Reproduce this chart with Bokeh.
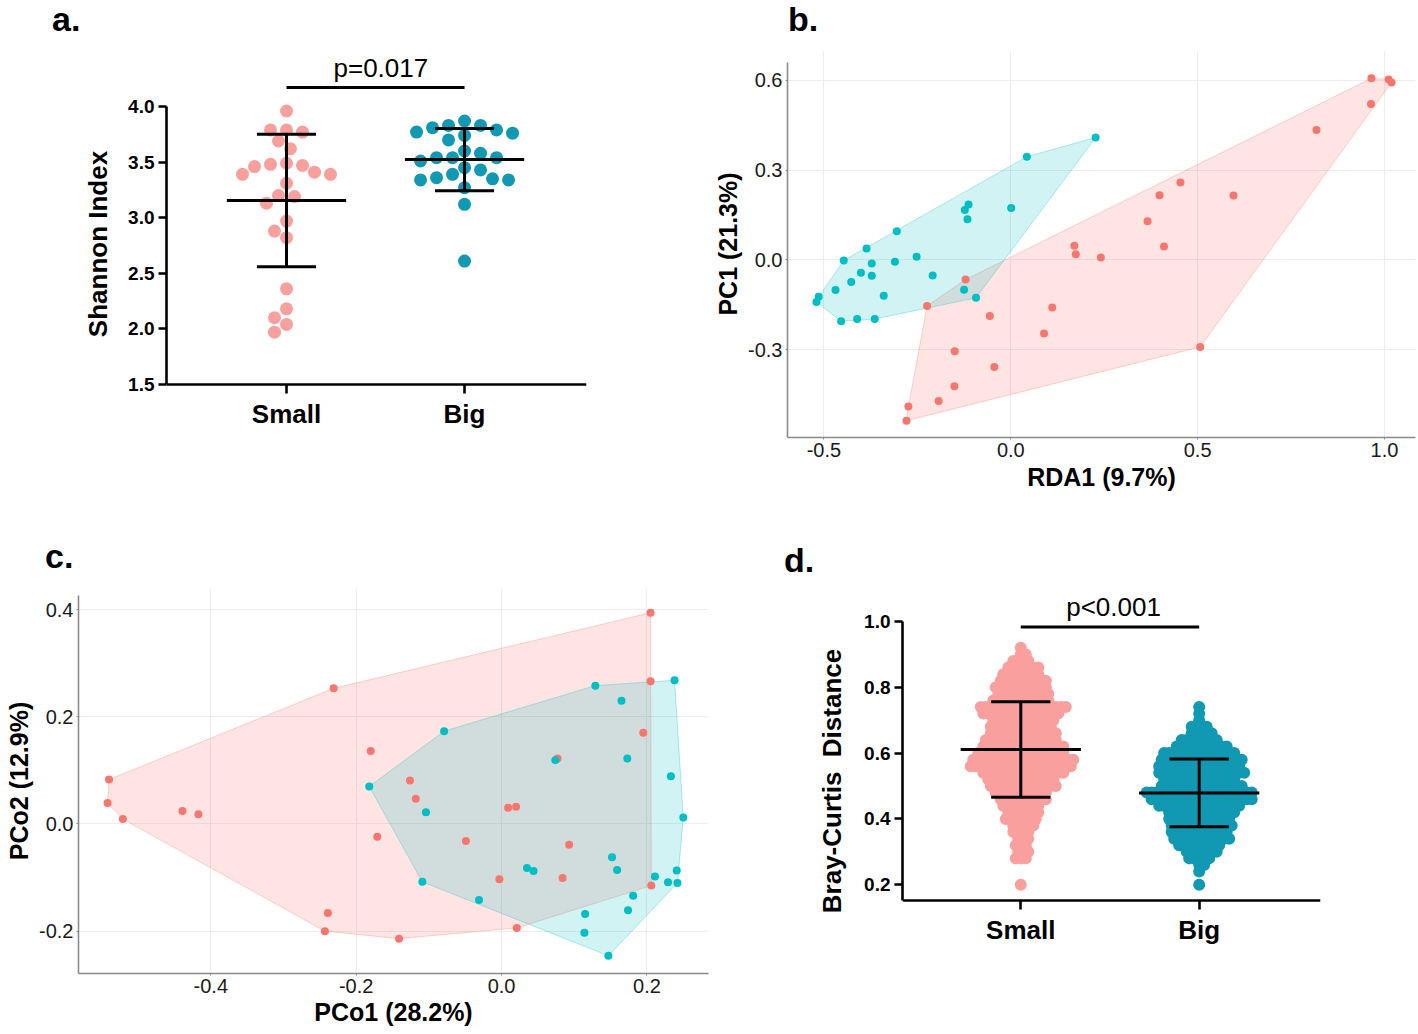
import numpy as np
from bokeh.plotting import figure
from bokeh.layouts import row, column
from bokeh.models import Range1d, FixedTicker, NumeralTickFormatter, Div
from bokeh.core.properties import value
from bokeh.embed import file_html
from bokeh.resources import INLINE

# ------------------------------------------------------------------ data
groups = ["Small", "Big"]
panel_letters = ["a.", "b.", "c.", "d."]

# a. Shannon index per sample
a_small = [3.96, 3.79, 3.77, 3.79, 3.69, 3.62, 3.48, 3.49, 3.46, 3.47, 3.39, 3.39, 3.41,
           3.31, 3.20, 3.19, 3.13, 2.97, 2.88, 2.82, 2.36, 2.18, 2.10, 2.04, 1.97]
a_big = [3.87, 3.81, 3.83, 3.79, 3.77, 3.76, 3.83, 3.70, 3.74, 3.58, 3.60, 3.54, 3.51,
         3.54, 3.54, 3.43, 3.45, 3.39, 3.36, 3.34, 3.34, 3.35, 3.27, 3.12, 2.61]
a_yticks = [1.5, 2.0, 2.5, 3.0, 3.5, 4.0]
a_ptext = "p=0.017"

# b. RDA ordination
b_small_x = [0.965, 1.011, 1.019, 0.964, 0.818, 0.454, 0.398, 0.596, 0.366, 0.170, 0.174, 0.241, 0.410,
             -0.121, -0.224, 0.111, -0.056, 0.089, 0.507, -0.150, -0.044, -0.151, -0.193, -0.274, -0.279]
b_small_y = [0.607, 0.603, 0.593, 0.521, 0.434, 0.259, 0.216, 0.215, 0.129, 0.047, 0.019, 0.008, 0.045,
             -0.066, -0.154, -0.159, -0.188, -0.246, -0.291, -0.306, -0.358, -0.423, -0.472, -0.490, -0.538]
b_big_x = [0.227, 0.043, -0.113, -0.123, -0.116, 0.001, -0.305, -0.386, -0.447, -0.372, -0.310, -0.252, -0.401,
           -0.427, -0.372, -0.469, -0.340, -0.209, -0.125, -0.093, -0.514, -0.520, -0.454, -0.411, -0.364]
b_big_y = [0.409, 0.345, 0.185, 0.167, 0.136, 0.173, 0.096, 0.038, -0.002, -0.012, -0.006, 0.010, -0.043,
           -0.074, -0.053, -0.101, -0.120, -0.052, -0.100, -0.127, -0.123, -0.141, -0.205, -0.198, -0.198]
b_xticks = [-0.5, 0.0, 0.5, 1.0]
b_yticks = [-0.3, 0.0, 0.3, 0.6]

# c. PCoA ordination
c_small_x = [0.205, 0.205, -0.231, 0.195, 0.077, -0.180, -0.540, -0.542, -0.521, -0.439, -0.417, -0.126, -0.118,
             0.009, 0.020, -0.171, -0.049, 0.093, -0.003, 0.084, 0.206, -0.239, -0.243, -0.141, 0.021]
c_small_y = [0.394, 0.266, 0.253, 0.170, 0.122, 0.136, 0.083, 0.039, 0.009, 0.024, 0.018, 0.081, 0.047,
             0.030, 0.032, -0.024, -0.032, -0.039, -0.103, -0.101, -0.115, -0.166, -0.200, -0.214, -0.194]
c_big_x = [0.238, 0.129, 0.165, -0.079, 0.074, 0.173, 0.233, -0.182, -0.104, 0.250, 0.152, 0.159, 0.035,
           0.044, -0.109, 0.211, 0.241, 0.229, 0.242, -0.031, 0.181, 0.115, 0.174, 0.114, 0.147]
c_big_y = [0.268, 0.258, 0.230, 0.173, 0.119, 0.122, 0.089, 0.070, 0.022, 0.012, -0.062, -0.086, -0.082,
           -0.088, -0.108, -0.098, -0.087, -0.109, -0.110, -0.142, -0.134, -0.168, -0.161, -0.203, -0.246]
c_xticks = [-0.4, -0.2, 0.0, 0.2]
c_yticks = [-0.2, 0.0, 0.2, 0.4]

# d. Bray-Curtis distances: distance level and number of pairs at that level
d_levels = [0.20, 0.22, 0.24, 0.26, 0.28, 0.30, 0.32, 0.34, 0.36, 0.38, 0.40, 0.42, 0.44,
            0.46, 0.48, 0.50, 0.52, 0.54, 0.56, 0.58, 0.60, 0.62, 0.64, 0.66, 0.68, 0.70,
            0.72, 0.74, 0.76, 0.78, 0.80, 0.82, 0.84, 0.86, 0.88, 0.90, 0.92]
d_small_counts = [1, 0, 0, 0, 3, 3, 3, 3, 4, 5, 7, 7, 8,
                  10, 11, 14, 14, 17, 21, 21, 18, 17, 15, 14, 13, 13,
                  16, 18, 12, 11, 11, 10, 8, 7, 4, 2, 1]
d_big_counts = [1, 0, 1, 2, 5, 7, 9, 12, 12, 13, 13, 14, 17,
                21, 22, 17, 15, 18, 17, 17, 15, 11, 8, 5, 4, 1,
                1, 1, 0, 0, 0, 0, 0, 0, 0, 0, 0]
d_mean = [0.611, 0.479]
d_sd = [0.145, 0.103]
d_yticks = [0.2, 0.4, 0.6, 0.8, 1.0]
d_ptext = "p<0.001"

# ------------------------------------------------------------------ style
FONT = "Liberation Sans"
PINK = "#F9A09E"
TEAL = "#1198B2"
GG_RED = "#F8766D"
GG_TEAL = "#00BFC4"


def hull(xs, ys):
    pts = sorted(set(zip(xs, ys)))
    def cross(o, a, b):
        return (a[0] - o[0]) * (b[1] - o[1]) - (a[1] - o[1]) * (b[0] - o[0])
    lower, upper = [], []
    for p_ in pts:
        while len(lower) >= 2 and cross(lower[-2], lower[-1], p_) <= 0:
            lower.pop()
        lower.append(p_)
    for p_ in reversed(pts):
        while len(upper) >= 2 and cross(upper[-2], upper[-1], p_) <= 0:
            upper.pop()
        upper.append(p_)
    h = lower[:-1] + upper[:-1]
    return [q[0] for q in h], [q[1] for q in h]


def swarm(vals, px_y, diam, step):
    vals = np.asarray(vals, float)
    order = np.argsort(-vals, kind="stable")
    placed = []
    offs = np.zeros(len(vals))
    cands = [0.0]
    for m in range(1, 80):
        cands += [-m * step, m * step]
    for i in order:
        y = vals[i] * px_y
        for c in cands:
            if all((c - px) ** 2 + (y - py) ** 2 >= diam ** 2 for px, py in placed):
                offs[i] = c
                placed.append((c, y))
                break
    return offs


def level_rows(levels, counts, spacing):
    xs, ys = [], []
    for j, (lv, n) in enumerate(zip(levels, counts)):
        shift = 0.5 * spacing if (j % 2 and n > 1) else 0.0
        for i in range(n):
            xs.append((i - (n - 1) / 2) * spacing + shift)
            ys.append(lv)
    return np.array(xs), np.array(ys)


def prism_style(p, yticks, ybounds, xaxis_at):
    p.outline_line_color = None
    p.grid.visible = False
    p.background_fill_color = "white"
    p.border_fill_color = "white"
    p.xaxis.ticker = FixedTicker(ticks=[0, 1])
    p.xaxis.major_label_overrides = {0: groups[0], 1: groups[1]}
    p.xaxis.fixed_location = xaxis_at
    p.yaxis.ticker = FixedTicker(ticks=yticks)
    p.yaxis.formatter = NumeralTickFormatter(format="0.0")
    p.yaxis.bounds = ybounds
    for ax in (p.xaxis, p.yaxis):
        ax.axis_line_width = 2.6
        ax.axis_line_color = "black"
        ax.major_tick_line_width = 2.6
        ax.major_tick_line_color = "black"
        ax.major_tick_out = 8
        ax.major_tick_in = 0
        ax.minor_tick_line_color = None
        ax.major_label_text_font = FONT
        ax.major_label_text_font_style = "bold"
        ax.major_label_text_color = "black"
        ax.axis_label_text_font = FONT
        ax.axis_label_text_font_style = "bold"
        ax.axis_label_text_font_size = "26px"
        ax.axis_label_text_color = "black"
    p.yaxis.major_label_text_font_size = "19px"
    p.yaxis.major_label_standoff = 4
    p.xaxis.major_label_text_font_size = "26px"
    p.xaxis.major_label_standoff = 6
    p.xaxis.major_tick_out = 9


def gg_style(p, xticks, yticks, ybounds):
    p.outline_line_color = None
    p.background_fill_color = "white"
    p.border_fill_color = "white"
    p.xaxis.ticker = FixedTicker(ticks=xticks)
    p.yaxis.ticker = FixedTicker(ticks=yticks)
    p.xaxis.formatter = NumeralTickFormatter(format="0.0")
    p.yaxis.formatter = NumeralTickFormatter(format="0.0")
    p.yaxis.bounds = ybounds
    p.grid.grid_line_color = "#EDEDED"
    p.grid.grid_line_width = 1.2
    for ax in (p.xaxis, p.yaxis):
        ax.axis_line_color = "#8c8c8c"
        ax.axis_line_width = 1.6
        ax.major_tick_line_color = "#8c8c8c"
        ax.major_tick_out = 2
        ax.major_tick_in = 0
        ax.minor_tick_line_color = None
        ax.major_label_text_font = FONT
        ax.major_label_text_font_size = "20px"
        ax.major_label_text_color = "#1a1a1a"
        ax.major_label_standoff = 3
        ax.axis_label_text_font = FONT
        ax.axis_label_text_font_style = "bold"
        ax.axis_label_text_font_size = "25px"
        ax.axis_label_text_color = "black"
        ax.axis_label_standoff = 3


def letter_div(txt, width, height, left, top):
    html = ('<div style="font-family:\'Liberation Sans\',Arial,sans-serif;font-weight:bold;'
            'font-size:34px;line-height:38px;color:#000;white-space:nowrap;'
            'margin:0;padding:0;position:relative;left:%dpx;top:%dpx">%s</div>' % (left, top, txt))
    return Div(text=html, width=width, height=height, margin=(0, 0, 0, 0))


# ------------------------------------------------------------------ panel a
pa = figure(width=700, height=480, x_range=Range1d(-0.674, 1.685), y_range=Range1d(1.023, 4.504),
            min_border_left=166, min_border_right=114, min_border_top=10, min_border_bottom=83,
            output_backend="svg", toolbar_location=None)
prism_style(pa, a_yticks, (1.5, 4.0), 1.5)
pa.yaxis.axis_label = "Shannon Index"
pa.yaxis.axis_label_standoff = 12
px_x_a = 420 / (1.685 + 0.674)
px_y_a = 111.2
for gi, (vals, col) in enumerate([(a_small, PINK), (a_big, TEAL)]):
    offs = swarm(vals, px_y_a, 13.5, 4.0)
    pa.scatter(gi + offs / px_x_a, vals, size=13, fill_color=col, line_color=None)
for gi, vals in enumerate([a_small, a_big]):
    m = float(np.mean(vals))
    s = float(np.std(vals, ddof=1))
    pa.segment(x0=[gi - 0.335, gi - 0.166, gi - 0.166, gi], x1=[gi + 0.335, gi + 0.166, gi + 0.166, gi],
               y0=[m, m + s, m - s, m - s], y1=[m, m + s, m - s, m + s],
               line_color="black", line_width=3)
pa.segment(x0=[0], x1=[1], y0=[4.171], y1=[4.171], line_color="black", line_width=3)
pa.text(x=[0.53], y=[4.35], text=[a_ptext], text_font=value(FONT), text_font_size="26px",
        text_align="center", text_baseline="middle", text_color="black")

# ------------------------------------------------------------------ panel b
pb = figure(width=718, height=480, x_range=Range1d(-0.5975, 1.083), y_range=Range1d(-0.594, 0.700),
            min_border_left=87, min_border_right=3, min_border_top=10, min_border_bottom=83,
            output_backend="svg", toolbar_location=None)
gg_style(pb, b_xticks, b_yticks, (-0.594, 0.660))
pb.xaxis.axis_label = "RDA1 (9.7%)"
pb.yaxis.axis_label = "PC1 (21.3%)"
hx, hy = hull(b_small_x, b_small_y)
pb.patch(hx, hy, fill_color=GG_RED, fill_alpha=0.2, line_color=GG_RED, line_alpha=0.3, line_width=1)
hx, hy = hull(b_big_x, b_big_y)
pb.patch(hx, hy, fill_color=GG_TEAL, fill_alpha=0.18, line_color=GG_TEAL, line_alpha=0.3, line_width=1)
pb.scatter(b_small_x, b_small_y, size=8, fill_color=GG_RED, line_color=None)
pb.scatter(b_big_x, b_big_y, size=8, fill_color=GG_TEAL, line_color=None)

# ------------------------------------------------------------------ panel c
pc = figure(width=780, height=454, x_range=Range1d(-0.582, 0.2847), y_range=Range1d(-0.279, 0.4392),
            min_border_left=78, min_border_right=72, min_border_top=8, min_border_bottom=61,
            output_backend="svg", toolbar_location=None)
gg_style(pc, c_xticks, c_yticks, (-0.279, 0.426))
pc.xaxis.axis_label = "PCo1 (28.2%)"
pc.yaxis.axis_label = "PCo2 (12.9%)"
pc.xaxis.axis_label_standoff = 2
pc.xaxis.major_label_standoff = 3
hx, hy = hull(c_small_x, c_small_y)
pc.patch(hx, hy, fill_color=GG_RED, fill_alpha=0.2, line_color=GG_RED, line_alpha=0.3, line_width=1)
hx, hy = hull(c_big_x, c_big_y)
pc.patch(hx, hy, fill_color=GG_TEAL, fill_alpha=0.18, line_color=GG_TEAL, line_alpha=0.3, line_width=1)
pc.scatter(c_small_x, c_small_y, size=8, fill_color=GG_RED, line_color=None)
pc.scatter(c_big_x, c_big_y, size=8, fill_color=GG_TEAL, line_color=None)

# ------------------------------------------------------------------ panel d
pd_ = figure(width=638, height=454, x_range=Range1d(-0.663, 1.680), y_range=Range1d(-0.0699, 1.1003),
             min_border_left=122, min_border_right=98, min_border_top=8, min_border_bottom=61,
             output_backend="svg", toolbar_location=None)
prism_style(pd_, d_yticks, (0.152, 1.0), 0.152)
pd_.yaxis.axis_label = "Bray-Curtis\u00a0 Distance"
pd_.yaxis.axis_label_standoff = 14
px_x_d = 418 / (1.680 + 0.663)
for gi, (counts, col) in enumerate([(d_small_counts, PINK), (d_big_counts, TEAL)]):
    ox, oy = level_rows(d_levels, counts, 5.0)
    pd_.scatter(gi + ox / px_x_d, oy, size=12, fill_color=col, line_color=None)
for gi in range(2):
    m, s = d_mean[gi], d_sd[gi]
    pd_.segment(x0=[gi - 0.337, gi - 0.166, gi - 0.166, gi], x1=[gi + 0.337, gi + 0.166, gi + 0.166, gi],
                y0=[m, m + s, m - s, m - s], y1=[m, m + s, m - s, m + s],
                line_color="black", line_width=3)
pd_.segment(x0=[0], x1=[1], y0=[0.983], y1=[0.983], line_color="black", line_width=3)
pd_.text(x=[0.52], y=[1.045], text=[d_ptext], text_font=value(FONT), text_font_size="26px",
         text_align="center", text_baseline="middle", text_color="black")

# ------------------------------------------------------------------ layout
top_letters = row(letter_div(panel_letters[0], 700, 40, 52, 0),
                  letter_div(panel_letters[1], 718, 40, 88, 0))
mid_letters = row(letter_div(panel_letters[2], 780, 60, 45, 17),
                  letter_div(panel_letters[3], 638, 60, 4, 21))
layout = column(top_letters, row(pa, pb), mid_letters, row(pc, pd_))
open("out.html", "w").write(file_html(layout, INLINE))
